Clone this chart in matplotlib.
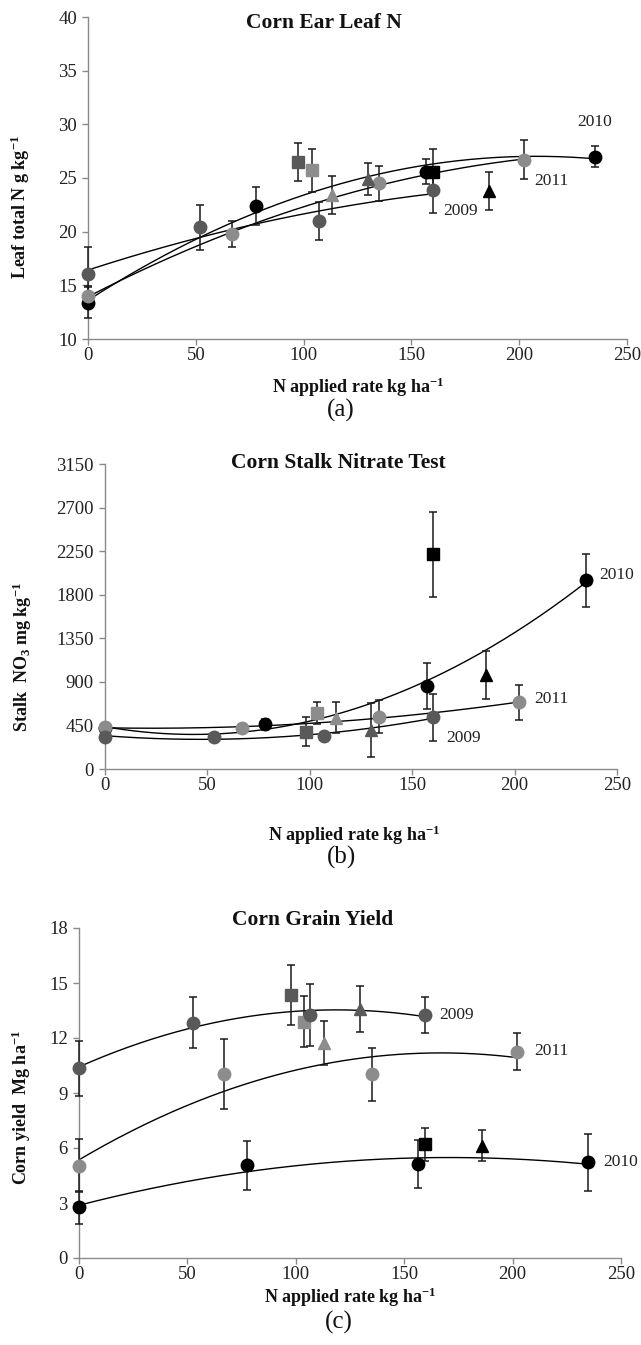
import numpy as np
import matplotlib
matplotlib.use('Agg')
import matplotlib.pyplot as plt

# Fonts (Times-like look of the original figure)
plt.rcParams['font.family'] = ['Liberation Serif', 'DejaVu Serif']
plt.rcParams['mathtext.fontset'] = 'custom'
plt.rcParams['mathtext.rm'] = 'Liberation Serif'
plt.rcParams['mathtext.bf'] = 'Liberation Serif:bold'
plt.rcParams['mathtext.it'] = 'Liberation Serif:italic'

# Constants
FIG_W, FIG_H = 641, 1345
C_2009 = '#595959'
C_2010 = '#000000'
C_2011 = '#8c8c8c'
YEARS = ['2009', '2010', '2011']
COLORS = {'2009': C_2009, '2010': C_2010, '2011': C_2011}

# ---- (a) Corn ear leaf N, g kg-1 ----
leaf_x = {'2009': [0, 52, 107, 160], '2010': [0, 78, 157, 235], '2011': [0, 67, 135, 202]}
leaf_y = {'2009': [16.1, 20.4, 21.0, 23.85], '2010': [13.4, 22.4, 25.6, 27.0], '2011': [14.0, 19.8, 24.5, 26.7]}
leaf_err = {'2009': [2.5, 2.1, 1.8, 2.1], '2010': [1.4, 1.8, 1.2, 1.0], '2011': [0.9, 1.2, 1.6, 1.8]}
leaf_sq = {'2009': [97.6, 26.5, 1.8], '2010': [160, 25.6, 2.1], '2011': [104, 25.7, 2.0]}
leaf_tri = {'2009': [130, 24.9, 1.5], '2010': [186, 23.8, 1.8], '2011': [113, 23.4, 1.8]}
leaf_labels = {'2009': [173, 21.9], '2010': [235, 30.2], '2011': [215, 24.7]}

# ---- (b) Corn stalk nitrate, mg kg-1 ----
stalk_x = {'2009': [0, 53, 107, 160], '2010': [0, 78, 157, 235], '2011': [0, 67, 134, 202]}
stalk_y = {'2009': [335, 333, 341, 532], '2010': [420, 460, 859, 1948], '2011': [430, 424, 539, 687]}
stalk_err = {'2009': [40, 35, 40, 240], '2010': [40, 60, 240, 275], '2011': [40, 40, 170, 180]}
stalk_sq = {'2009': [98, 383, 150], '2010': [160, 2216, 440], '2011': [103.5, 579, 110]}
stalk_tri = {'2009': [130, 405, 280], '2010': [186, 969, 250], '2011': [113, 527, 160]}
stalk_labels = {'2009': [175, 316], '2010': [250, 2000], '2011': [218, 721]}

# ---- (c) Corn grain yield, Mg ha-1 ----
yield_x = {'2009': [0, 52.8, 106.7, 159.5], '2010': [0, 77.7, 156.5, 234.7], '2011': [0, 66.7, 135, 202]}
yield_y = {'2009': [10.34, 12.83, 13.25, 13.25], '2010': [2.76, 5.05, 5.12, 5.23], '2011': [5.03, 10.04, 10.02, 11.25]}
yield_err = {'2009': [1.5, 1.4, 1.7, 0.97], '2010': [0.9, 1.35, 1.3, 1.55], '2011': [1.45, 1.9, 1.45, 1.0]}
yield_sq = {'2009': [97.7, 14.34, 1.65], '2010': [159.5, 6.2, 0.9], '2011': [103.9, 12.9, 1.4]}
yield_tri = {'2009': [129.7, 13.57, 1.25], '2010': [186, 6.12, 0.85], '2011': [113, 11.74, 1.2]}
yield_labels = {'2009': [174, 13.25], '2010': [250, 5.26], '2011': [218, 11.3]}


def px(x, y):
    # pixel position in the picture -> figure fraction
    return x / FIG_W, 1 - y / FIG_H


def draw_panel(ax, xs, ys, errs, sqs, tris, labels, ylim, yticks):
    for yr in ['2010', '2011', '2009']:
        c = COLORS[yr]
        # quadratic trend through the circle points
        coef = np.polyfit(xs[yr], ys[yr], 2)
        xx = np.linspace(0, max(xs[yr]), 200)
        ax.plot(xx, np.polyval(coef, xx), color='black', lw=1.0, zorder=2)
        # error bars
        ex = xs[yr] + [sqs[yr][0], tris[yr][0]]
        ey = ys[yr] + [sqs[yr][1], tris[yr][1]]
        ee = errs[yr] + [sqs[yr][2], tris[yr][2]]
        ax.errorbar(ex, ey, yerr=ee, fmt='none', ecolor='#1a1a1a', elinewidth=1.1,
                    capsize=3.2, capthick=1.1, zorder=3, clip_on=False)
        ax.plot(xs[yr], ys[yr], 'o', color=c, ms=9, zorder=4, clip_on=False)
        ax.plot([sqs[yr][0]], [sqs[yr][1]], 's', color=c, ms=8, zorder=4, clip_on=False)
        ax.plot([tris[yr][0]], [tris[yr][1]], '^', color=c, ms=8, zorder=4, clip_on=False)
    for yr in YEARS:
        ax.text(labels[yr][0], labels[yr][1], yr, fontsize=12.5, ha='center', va='center',
                color='#222222')
    ax.set_xlim(0, 250)
    ax.set_ylim(*ylim)
    ax.set_xticks([0, 50, 100, 150, 200, 250])
    ax.set_yticks(yticks)
    for s in ['top', 'right']:
        ax.spines[s].set_visible(False)
    for s in ['left', 'bottom']:
        ax.spines[s].set_color('#8a8a8a')
        ax.spines[s].set_linewidth(1.0)
    ax.tick_params(direction='out', length=4, width=1.0, color='#8a8a8a',
                   labelsize=13.5, labelcolor='#222222')
    ax.tick_params(axis='x', pad=2)
    ax.tick_params(axis='y', pad=4)


fig = plt.figure(figsize=(FIG_W / 100, FIG_H / 100), dpi=100)

ax_a = fig.add_axes([88 / FIG_W, 1 - 339 / FIG_H, 539 / FIG_W, 322 / FIG_H])
draw_panel(ax_a, leaf_x, leaf_y, leaf_err, leaf_sq, leaf_tri, leaf_labels,
           (10, 40), [10, 15, 20, 25, 30, 35, 40])

ax_b = fig.add_axes([105 / FIG_W, 1 - 769 / FIG_H, 512 / FIG_W, 305 / FIG_H])
draw_panel(ax_b, stalk_x, stalk_y, stalk_err, stalk_sq, stalk_tri, stalk_labels,
           (0, 3150), [0, 450, 900, 1350, 1800, 2250, 2700, 3150])

ax_c = fig.add_axes([79 / FIG_W, 1 - 1258 / FIG_H, 542 / FIG_W, 330 / FIG_H])
draw_panel(ax_c, yield_x, yield_y, yield_err, yield_sq, yield_tri, yield_labels,
           (0, 18), [0, 3, 6, 9, 12, 15, 18])

# Titles, axis labels and panel letters
XLAB = r'N applied rate kg ha$^{\mathbf{-1}}$'
texts = [
    ('Corn Ear Leaf N', 324, 23, 0, True, 15.5),
    (XLAB, 358, 387, 0, True, 13),
    ('(a)', 341, 410, 0, False, 18),
    (r'Leaf total N g kg$^{\mathbf{-1}}$', 20, 207, 90, True, 13),
    ('Corn Stalk Nitrate Test', 338, 463, 0, True, 15.5),
    (XLAB, 354, 835, 0, True, 13),
    ('(b)', 341, 857, 0, False, 18),
    (r'Stalk  NO$_{\mathbf{3}}$ mg kg$^{\mathbf{-1}}$', 22, 657, 90, True, 13),
    ('Corn Grain Yield', 313, 920, 0, True, 15.5),
    (XLAB, 350, 1297, 0, True, 13),
    ('(c)', 339, 1322, 0, False, 18),
    (r'Corn yield  Mg ha$^{\mathbf{-1}}$', 21, 1107, 90, True, 13),
]
for t, x, y, rot, bold, size in texts:
    fx, fy = px(x, y)
    fig.text(fx, fy, t, ha='center', va='center', rotation=rot,
             fontweight='bold' if bold else 'normal', fontsize=size, color='#111111')

fig.savefig('out.png', dpi=100)
